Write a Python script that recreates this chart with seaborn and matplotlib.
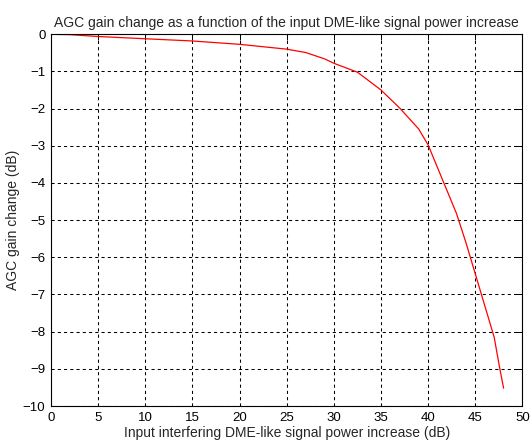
import pandas as pd
import matplotlib
matplotlib.use("Agg")
import matplotlib.pyplot as plt
import seaborn as sns

# values
power_increase = [0, 2, 5, 10, 15, 20, 25, 27, 29, 30, 32.5, 35, 37, 39, 40, 41.5,
                  43, 44, 45, 46, 47, 47.6, 48]
gain_change = [0, -0.01, -0.06, -0.12, -0.18, -0.27, -0.4, -0.49, -0.66, -0.78, -1.02,
               -1.5, -1.99, -2.55, -2.98, -3.9, -4.82, -5.6, -6.45, -7.3, -8.15,
               -9.0, -9.52]
x_ticks = list(range(0, 51, 5))
y_ticks = list(range(-10, 1, 1))

df = pd.DataFrame({"x": power_increase, "y": gain_change})

sns.set_style("white")
plt.rcParams["font.family"] = ["Liberation Sans", "DejaVu Sans"]

fig = plt.figure(figsize=(5.3, 4.43), dpi=100)
ax = fig.add_axes([0.0962, 0.0835, 0.8896, 0.8391])

sns.lineplot(data=df, x="x", y="y", color="red", linewidth=0.9, ax=ax)

ax.set_xlim(0, 50)
ax.set_ylim(-10, 0)
ax.set_xticks(x_ticks)
ax.set_yticks(y_ticks)
ax.grid(True, color="black", linestyle=(0, (3, 3)), linewidth=0.75)
ax.set_axisbelow(True)
ax.tick_params(direction="in", length=4, width=0.7, top=True, right=True,
               labelsize=9.5, colors="black", pad=4)
for s in ax.spines.values():
    s.set_color("black")
    s.set_linewidth(0.8)

ax.set_title("AGC gain change as a function of the input DME-like signal power increase",
             fontsize=10, pad=5)
ax.set_xlabel("Input interfering DME-like signal power increase (dB)", fontsize=10, labelpad=2)
ax.set_ylabel("AGC gain change (dB)", fontsize=10, labelpad=2)

fig.savefig("out.png", dpi=100)
plt.close(fig)
